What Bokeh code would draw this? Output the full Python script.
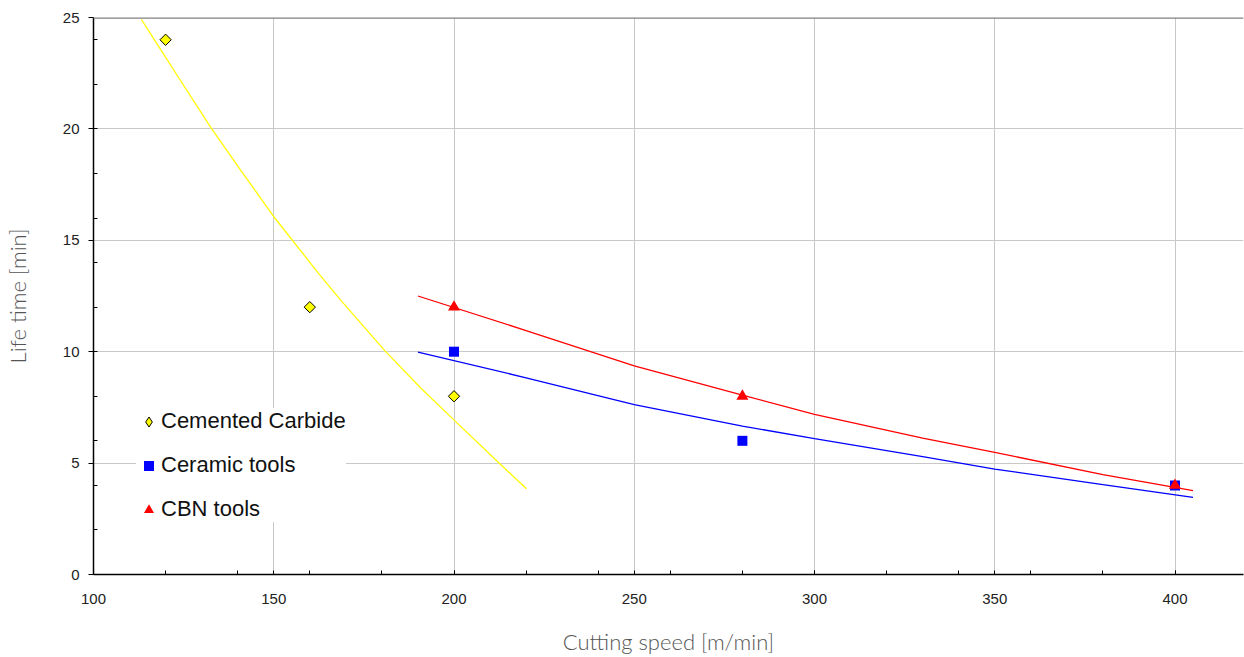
import math

from bokeh.plotting import figure
from bokeh.models import Range1d, FixedTicker, Legend, LegendItem, Span
from bokeh.embed import file_html
from bokeh.resources import INLINE

# Measured tool life [min] at each cutting speed [m/min]
carbide_speed = [120, 160, 200]
carbide_life = [24, 12, 8]
ceramic_speed = [200, 280, 400]
ceramic_life = [10, 6, 4]
cbn_speed = [200, 280, 400]
cbn_life = [12, 8, 4]

# Trend curves through each tool material
carbide_trend_speed = [113.3, 117.0, 123.5, 132.7, 141.0, 150.3, 162.3, 168.8,
                       180.8, 190.9, 199.9, 212.2, 220.1]
carbide_trend_life = [24.91, 23.97, 22.33, 20.02, 18.10, 16.0, 13.54, 12.27,
                      10.05, 8.35, 6.95, 5.05, 3.85]
ceramic_trend_speed = [190, 220, 250, 280, 300, 330, 350, 380, 405]
ceramic_trend_life = [9.98, 8.83, 7.62, 6.66, 6.10, 5.29, 4.73, 4.03, 3.46]
cbn_trend_speed = [190, 220, 250, 280, 300, 330, 350, 380, 405]
cbn_trend_life = [12.5, 10.95, 9.36, 8.05, 7.19, 6.12, 5.48, 4.48, 3.76]

# Axis ticks
x_major = [100, 150, 200, 250, 300, 350, 400]
x_minor = list(range(120, 420, 20))
y_major = [0, 5, 10, 15, 20, 25]
y_minor = list(range(2, 25, 2))

X_MIN, X_MAX = 100, 419
Y_MIN, Y_MAX = 0, 25

p = figure(
    width=1244, height=657,
    x_range=Range1d(X_MIN, X_MAX), y_range=Range1d(Y_MIN, Y_MAX),
    output_backend="svg", toolbar_location=None,
    min_border_left=92, min_border_right=1,
    min_border_top=17, min_border_bottom=81,
)
p.outline_line_color = None
p.background_fill_color = "white"
p.border_fill_color = "white"

# Grid
for g in (p.xgrid, p.ygrid):
    g.grid_line_color = "#c8c8c8"
    g.grid_line_width = 1

TICK_FONT = "Liberation Sans"
TITLE_FONT = "Lato Light, Lato"

# X axis
xa = p.xaxis[0]
xa.ticker = FixedTicker(ticks=x_major, minor_ticks=x_minor)
xa.axis_line_color = "black"
xa.axis_line_width = 1.5
xa.major_tick_in = 4
xa.major_tick_out = 0
xa.minor_tick_in = 4
xa.minor_tick_out = 0
xa.major_tick_line_color = "black"
xa.minor_tick_line_color = "black"
xa.major_label_standoff = 19
xa.major_label_text_font = TICK_FONT
xa.major_label_text_font_size = "15px"
xa.major_label_text_color = "#222222"
xa.axis_label = "Cutting speed [m/min]"
xa.axis_label_text_font = TITLE_FONT
xa.axis_label_text_font_size = "22px"
xa.axis_label_text_font_style = "normal"
xa.axis_label_text_color = "#555555"
xa.axis_label_standoff = 21

# Y axis
ya = p.yaxis[0]
ya.ticker = FixedTicker(ticks=y_major, minor_ticks=y_minor)
ya.axis_line_color = "black"
ya.axis_line_width = 1.5
ya.major_tick_in = 0
ya.major_tick_out = 5
ya.minor_tick_in = 4
ya.minor_tick_out = 0
ya.major_tick_line_color = "black"
ya.minor_tick_line_color = "black"
ya.major_label_standoff = 9
ya.major_label_text_font = TICK_FONT
ya.major_label_text_font_size = "15px"
ya.major_label_text_color = "#222222"
ya.axis_label = "Life time [min]"
ya.axis_label_text_font = TITLE_FONT
ya.axis_label_text_font_size = "22px"
ya.axis_label_text_font_style = "normal"
ya.axis_label_text_color = "#555555"
ya.axis_label_standoff = 29

# Top frame edge
p.add_layout(Span(location=Y_MAX, dimension="width", line_color="#808080", line_width=2.5))

# Trend curves
p.line(carbide_trend_speed, carbide_trend_life, line_color="#ffff00", line_width=1.3)
p.line(ceramic_trend_speed, ceramic_trend_life, line_color="#0000ff", line_width=1.3)
p.line(cbn_trend_speed, cbn_trend_life, line_color="#ff0000", line_width=1.3)

# Measured points (carbide drawn as a square turned on its corner)
p.scatter(carbide_speed, carbide_life, marker="square", size=8, angle=math.pi / 4,
          fill_color="#ffff00", line_color="black", line_width=1)
r_ceramic = p.scatter(ceramic_speed, ceramic_life, marker="square", size=10,
                      fill_color="#0000ff", line_color=None)
r_cbn = p.scatter(cbn_speed, cbn_life, marker="triangle", size=12,
                  fill_color="#ff0000", line_color=None)

# Legend swatch for carbide: zero-size diamonds on the same points
r_carbide_key = p.scatter(carbide_speed, carbide_life, marker="diamond", size=0,
                          fill_color="#ffff00", line_color="black", line_width=1)

legend = Legend(
    items=[
        LegendItem(label="Cemented Carbide", renderers=[r_carbide_key]),
        LegendItem(label="Ceramic tools", renderers=[r_ceramic]),
        LegendItem(label="CBN tools", renderers=[r_cbn]),
    ],
    location=(43, 52),
    padding=12, margin=0, spacing=18,
    glyph_width=25, glyph_height=25, label_height=20,
    label_standoff=0,
    label_text_font=TICK_FONT, label_text_font_size="22px",
    label_text_color="#111111",
    border_line_color=None,
    background_fill_color="white", background_fill_alpha=1.0,
)
p.add_layout(legend, "center")

open("out.html", "w").write(file_html(p, INLINE))
